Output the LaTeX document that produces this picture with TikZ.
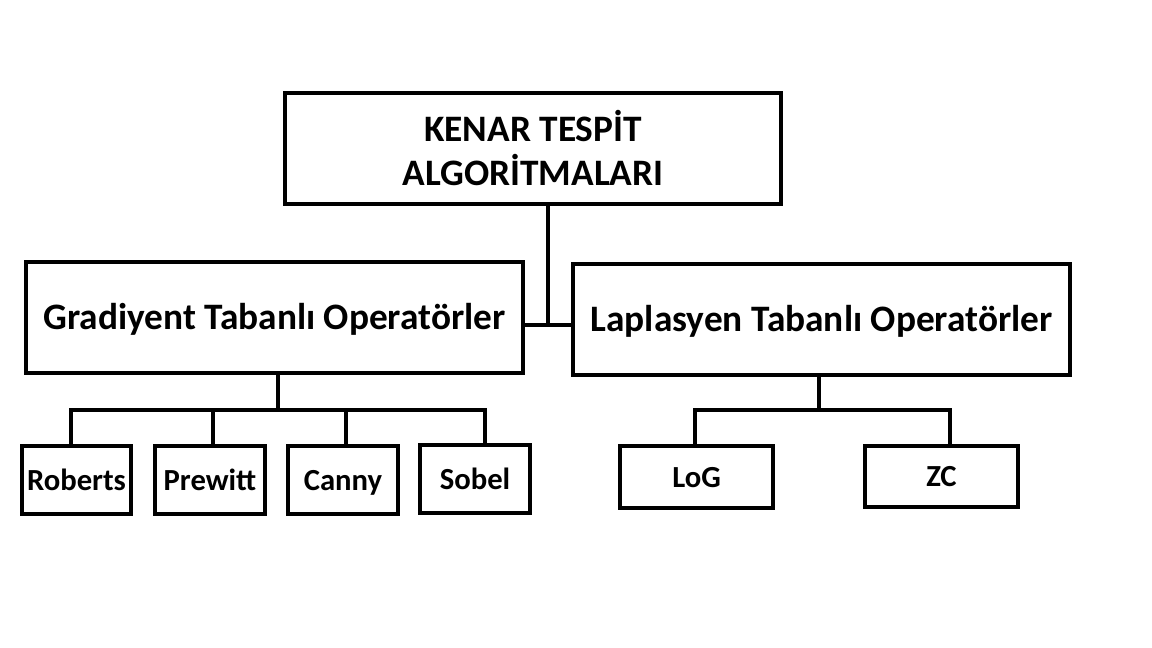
\documentclass[tikz,border=0pt]{standalone}
\usepackage{fontspec}
\setmainfont{Carlito}
\usetikzlibrary{positioning}

\tikzset{
	box/.style={draw=black, line width=3pt, rectangle, inner sep=0pt, font=\bfseries\fontsize{28}{33}\selectfont, align=center},
	branch/.style={box, text height=18pt, text depth=0pt},
	leaf/.style={box, font=\bfseries\fontsize{23}{26}\selectfont, text height=15pt, text depth=0pt},
	conn/.style={line width=3pt}
}

\begin{document}
\begin{tikzpicture}[x=0.75pt, y=-0.75pt]
		
			\useasboundingbox[fill=white] (0,0) rectangle (1152,648);
			
			\node[box, minimum width=372pt, minimum height=83pt] (top) at (533,148.5) {KENAR TESPİT\\ALGORİTMALARI};
			\node[branch, minimum width=373pt, minimum height=83pt] (grad) at (274.5,317.5) {Gradiyent Tabanlı Operatörler};
			\node[branch, minimum width=373pt, minimum height=83pt] (lap) at (821.5,319.5) {Laplasyen Tabanlı Operatörler};
			
			\node[leaf, minimum width=82pt, minimum height=51pt] (rob) at (76.5,480) {Roberts};
			\node[leaf, minimum width=82pt, minimum height=51pt] (pre) at (210,480) {Prewitt};
			\node[leaf, minimum width=82pt, minimum height=51pt] (can) at (343,480) {Canny};
			\node[leaf, minimum width=82pt, minimum height=51pt] (sob) at (475,479) {Sobel};
			
			\node[leaf, minimum width=115pt, minimum height=46pt] (log) at (696.5,477) {LoG};
			\node[leaf, minimum width=115pt, minimum height=46pt] (zc) at (941.5,476.5) {ZC};
			
			\coordinate (j0) at (548,325);
			\coordinate (g0) at (278,410);
			\coordinate (l0) at (819,410);
			
			\draw[conn] (top.south -| j0) -- (j0);
			\draw[conn] (grad.east |- j0) -- (j0) -- (j0 -| lap.west);
			
			\draw[conn] (grad.south -| g0) -- (g0);
			\foreach \n/\d in {rob/-5.5, pre/3, can/3, sob/10} {
				\draw[conn] (\n.north) ++(\d,0) |- (g0);
			}
			
			\draw[conn] (lap.south -| l0) -- (l0);
			\foreach \n/\d in {log/-1.5, zc/8.5} {
				\draw[conn] (\n.north) ++(\d,0) |- (l0);
			}

		\end{tikzpicture}
\end{document}
